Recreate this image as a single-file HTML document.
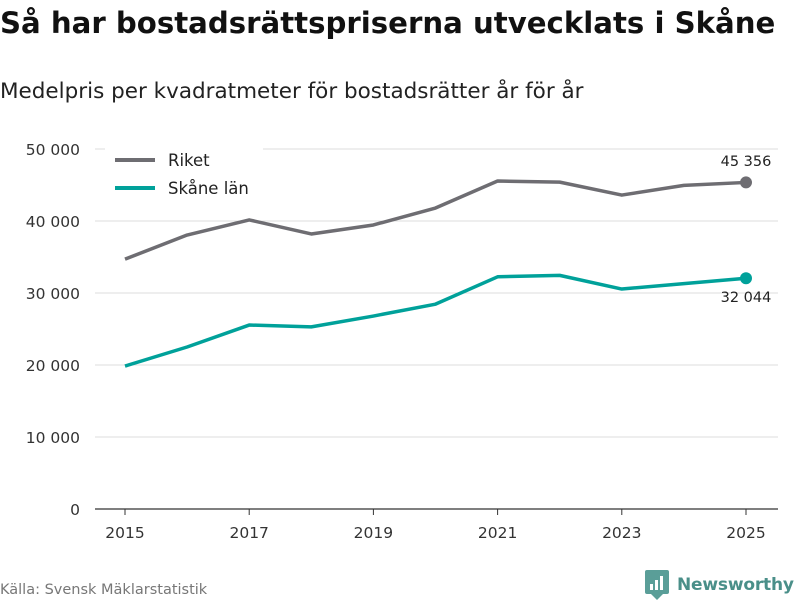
<!DOCTYPE html>
<html><head><meta charset="utf-8"><style>
body{margin:0;width:800px;height:600px;background:#fff;font-family:"DejaVu Sans","Liberation Sans",sans-serif;overflow:hidden}
#title{position:absolute;left:0;top:6px;font-size:29.2px;font-weight:bold;color:#111;letter-spacing:0px;white-space:nowrap}
#sub{position:absolute;left:0;top:79px;font-size:21.5px;color:#222;white-space:nowrap}
svg{position:absolute;left:0;top:0}
</style></head><body>
<div id="title">Så har bostadsrättspriserna utvecklats i Skåne</div>
<div id="sub">Medelpris per kvadratmeter för bostadsrätter år för år</div>
<svg id="chart" width="800" height="600"></svg>
<script>
const years=[2015,2016,2017,2018,2019,2020,2021,2022,2023,2024,2025];
const riket=[34700,38050,40150,38200,39450,41800,45550,45400,43600,44950,45356];
const skane=[19850,22500,25550,25300,26800,28450,32250,32450,30550,31300,32044];
const yTicks=[0,10000,20000,30000,40000,50000];
const xTicks=[2015,2017,2019,2021,2023,2025];
const NS="http://www.w3.org/2000/svg";
const svg=document.getElementById('chart');
const x=v=>125+(v-2015)*62.1;
const y=v=>509-v*0.0072;
function el(t,a,txt){const e=document.createElementNS(NS,t);for(const k in a)e.setAttribute(k,a[k]);if(txt!==undefined)e.textContent=txt;svg.appendChild(e);return e;}
const fmt=v=>v.toLocaleString('en').replace(/,/g,' ');
yTicks.forEach(v=>{
 const g=el('line',{x1:95,x2:778,y1:y(v),y2:y(v),stroke:v===0?'#333':'#ddd','stroke-width':v===0?1.2:1});
 
 const t=el('text',{x:80,y:y(v)+6,'text-anchor':'end','font-size':15.5,fill:'#333'},fmt(v));
 
});
xTicks.forEach(v=>{
 const k=el('line',{x1:x(v),x2:x(v),y1:509,y2:515,stroke:'#333'});
 
 const t=el('text',{x:x(v),y:538,'text-anchor':'middle','font-size':15.5,fill:'#333'},v);
 
});
function series(vals,color,name){
 const p=el('polyline',{points:vals.map((v,i)=>x(years[i])+','+y(v)).join(' '),fill:'none',stroke:color,'stroke-width':3.5,'stroke-linejoin':'round'});
 
 const last=vals.length-1;
 const c=el('circle',{cx:x(years[last]),cy:y(vals[last]),r:6,fill:color});
 
}
series(riket,'#6e6d72','riket');
series(skane,'#00a19a','skane');
let t=el('text',{x:746,y:166,'text-anchor':'middle','font-size':14.5,fill:'#222'},fmt(riket[riket.length-1]));

t=el('text',{x:746,y:302,'text-anchor':'middle','font-size':14.5,fill:'#222'},fmt(skane[skane.length-1]));

el('rect',{x:105,y:143,width:158,height:62,fill:'#fff'});
[['Riket','#6e6d72',160],['Skåne län','#00a19a',188]].forEach(([n,c,yy])=>{
 const l=el('line',{x1:115,x2:155,y1:yy,y2:yy,stroke:c,'stroke-width':4});
 
 const tx=el('text',{x:168,y:yy+6,'font-size':16.5,fill:'#222'},n);
 
});
t=el('text',{x:0,y:594,'font-size':14.5,fill:'#777'},'Källa: Svensk Mäklarstatistik');

const lg=el('rect',{x:645,y:570,width:24,height:24,rx:2,fill:'#5a9e98'});

el('polygon',{points:'651,594 663,594 657,600',fill:'#5a9e98'});
[[650,584,3,6],[655,580,3,10],[660,576,3,14]].forEach(b=>el('rect',{x:b[0],y:b[1],width:b[2],height:b[3],fill:'#fff'}));
t=el('text',{x:677,y:590,'font-size':17,'font-weight':'bold',fill:'#4a8f89',textLength:117},'Newsworthy');

</script>
</body></html>
